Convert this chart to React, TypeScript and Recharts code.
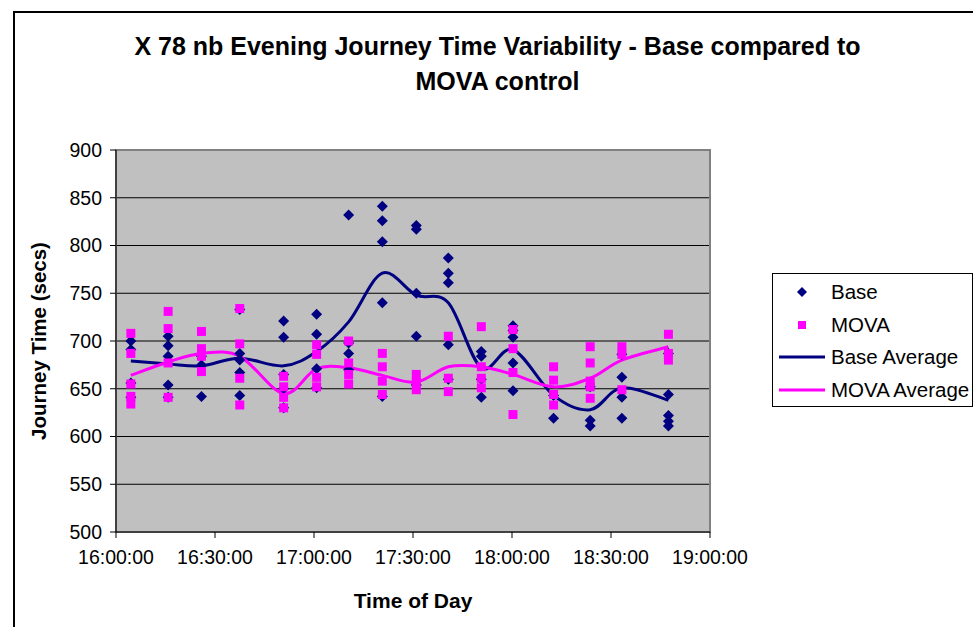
import {
  ComposedChart,
  Scatter,
  Line,
  XAxis,
  YAxis,
  CartesianGrid,
  ReferenceArea,
  Label,
} from 'recharts'

// run start times, minutes after 16:00
const RUN_MINUTES = [4.5, 15.8, 25.9, 37.5, 50.8, 60.8, 70.5, 80.7, 91, 100.7, 110.7, 120.3, 132.6, 143.7, 153.3, 167.4]

// individual journey times (secs) per run slot
const BASE_RUNS = [
  [700, 691, 656, 641],
  [705, 695, 684, 654, 641],
  [684, 675, 642],
  [733, 687, 680, 667, 643],
  [721, 704, 665, 650, 630],
  [728, 707, 671, 651],
  [832, 698, 687, 670],
  [841, 826, 804, 740, 642],
  [821, 817, 750, 705, 654],
  [787, 771, 761, 696, 660],
  [689, 684, 660, 641],
  [716, 711, 704, 677, 648],
  [643, 619],
  [652, 617, 611],
  [686, 662, 641, 619],
  [687, 644, 622, 616, 611],
]

const MOVA_RUNS = [
  [708, 687, 655, 642, 634],
  [731, 713, 677, 641],
  [710, 692, 684, 668],
  [734, 697, 661, 633],
  [663, 652, 641, 630],
  [696, 686, 662, 652],
  [700, 677, 665, 655],
  [687, 673, 658, 644],
  [665, 657, 649],
  [705, 661, 647],
  [715, 673, 661, 651],
  [712, 692, 667, 623],
  [673, 659, 644, 633],
  [694, 677, 658, 652, 640],
  [694, 686, 649],
  [707, 687, 680],
]

const BASE_AVERAGE = [679, 676, 674, 682, 674, 689, 720, 771, 748, 740, 672, 691, 643, 628, 651, 638]
const MOVA_AVERAGE = [664, 678, 687, 684, 645, 671, 672, 664, 657, 673, 673, 665, 652, 661, 680, 694]

const X_TICKS = [0, 30, 60, 90, 120, 150, 180]
const Y_TICKS = [500, 550, 600, 650, 700, 750, 800, 850, 900]

const NAVY = '#000080'
const MAGENTA = '#FF00FF'
const FONT = '"Liberation Sans", Arial, sans-serif'

const toPoints = (runs: number[][]) =>
  runs.flatMap((vals, i) => vals.map((v) => ({ min: RUN_MINUTES[i], value: v })))

const toLine = (avg: number[]) => avg.map((v, i) => ({ min: RUN_MINUTES[i], value: v }))

const basePoints = toPoints(BASE_RUNS)
const movaPoints = toPoints(MOVA_RUNS)
const baseLine = toLine(BASE_AVERAGE)
const movaLine = toLine(MOVA_AVERAGE)

function fmtTime(m: number) {
  const h = 16 + Math.floor(m / 60)
  const mm = String(m % 60).padStart(2, '0')
  return `${h}:${mm}:00`
}

// Excel-style smoothed line (bezier through every point)
const excelSmooth = (context: any) => {
  let pts: [number, number][] = []
  return {
    areaStart() {},
    areaEnd() {},
    lineStart() {
      pts = []
    },
    point(x: number, y: number) {
      pts.push([+x, +y])
    },
    lineEnd() {
      const n = pts.length
      if (!n) return
      context.moveTo(pts[0][0], pts[0][1])
      for (let i = 0; i < n - 1; i++) {
        const p0 = pts[i === 0 ? 0 : i - 1]
        const p1 = pts[i]
        const p2 = pts[i + 1]
        const p3 = pts[i + 2 < n ? i + 2 : n - 1]
        context.bezierCurveTo(
          p1[0] + (p2[0] - p0[0]) / 6,
          p1[1] + (p2[1] - p0[1]) / 6,
          p2[0] - (p3[0] - p1[0]) / 6,
          p2[1] - (p3[1] - p1[1]) / 6,
          p2[0],
          p2[1],
        )
      }
    },
  }
}

const Diamond = (props: any) => {
  const { cx, cy } = props
  const r = 5.5
  return (
    <polygon
      points={`${cx},${cy - r} ${cx + r},${cy} ${cx},${cy + r} ${cx - r},${cy}`}
      fill={NAVY}
    />
  )
}

const Square = (props: any) => {
  const { cx, cy } = props
  const r = 4.5
  return <rect x={cx - r} y={cy - r} width={r * 2} height={r * 2} fill={MAGENTA} />
}

const legendItems = [
  { name: 'Base', kind: 'diamond' },
  { name: 'MOVA', kind: 'square' },
  { name: 'Base Average', kind: 'navyLine' },
  { name: 'MOVA Average', kind: 'magentaLine' },
]

function LegendBox() {
  return (
    <div
      style={{
        position: 'absolute',
        left: 772,
        top: 273,
        width: 201,
        height: 134,
        border: '1px solid #000',
        boxSizing: 'border-box',
        background: '#fff',
        fontFamily: FONT,
        fontSize: 20.5,
      }}
    >
      {legendItems.map((it, i) => (
        <div
          key={it.name}
          style={{
            position: 'absolute',
            left: 0,
            top: 3 + i * 32.5,
            height: 30,
            display: 'flex',
            alignItems: 'center',
            whiteSpace: 'nowrap',
          }}
        >
          <svg width={56} height={30} style={{ display: 'block' }}>
            {it.kind === 'diamond' && <polygon points="29,10 34,15 29,20 24,15" fill={NAVY} />}
            {it.kind === 'square' && <rect x={25} y={11} width={8} height={8} fill={MAGENTA} />}
            {it.kind === 'navyLine' && <line x1={6} y1={15} x2={52} y2={15} stroke={NAVY} strokeWidth={3} />}
            {it.kind === 'magentaLine' && <line x1={6} y1={15} x2={52} y2={15} stroke={MAGENTA} strokeWidth={3} />}
          </svg>
          <span style={{ marginLeft: 2 }}>{it.name}</span>
        </div>
      ))}
    </div>
  )
}

export default function App() {
  const tickStyle = { fill: '#000', fontSize: 19.5, fontFamily: FONT }
  return (
    <div style={{ position: 'absolute', left: 0, top: 0, width: 973, height: 627, overflow: 'hidden', background: '#fff' }}>
      <div
        style={{
          position: 'absolute',
          left: 13,
          top: 11,
          width: 980,
          height: 650,
          border: '2px solid #000',
        }}
      />
      <div
        style={{
          position: 'absolute',
          left: 15,
          width: 965,
          top: 29,
          textAlign: 'center',
          fontFamily: FONT,
          fontWeight: 'bold',
          fontSize: 25,
          lineHeight: '35px',
        }}
      >
        X 78 nb Evening Journey Time Variability - Base compared to
        <br />
        MOVA control
      </div>
      <div style={{ position: 'absolute', left: 0, top: 0 }}>
        <ComposedChart width={973} height={627} margin={{ top: 150, right: 263, bottom: 0, left: 0 }}>
          <CartesianGrid vertical={false} stroke="#000" fill="#C0C0C0" fillOpacity={1} />
          <ReferenceArea x1={0} x2={180} y1={500} y2={900} fill="none" stroke="#808080" strokeWidth={2} />
          <XAxis
            type="number"
            dataKey="min"
            domain={[0, 180]}
            ticks={X_TICKS}
            tickFormatter={fmtTime}
            allowDataOverflow
            height={95}
            tick={tickStyle}
            tickSize={6}
            tickMargin={12}
            axisLine={{ stroke: '#000' }}
            tickLine={{ stroke: '#000' }}
          >
            <Label
              content={({ viewBox }: any) => (
                <text
                  x={viewBox.x + viewBox.width / 2}
                  y={608}
                  textAnchor="middle"
                  fontFamily={FONT}
                  fontWeight="bold"
                  fontSize={21}
                >
                  Time of Day
                </text>
              )}
            />
          </XAxis>
          <YAxis
            type="number"
            dataKey="value"
            domain={[500, 900]}
            ticks={Y_TICKS}
            allowDataOverflow
            width={116}
            tick={tickStyle}
            tickSize={6}
            tickMargin={8}
            axisLine={{ stroke: '#000' }}
            tickLine={{ stroke: '#000' }}
          >
            <Label
              content={({ viewBox }: any) => {
                const cy = viewBox.y + viewBox.height / 2
                return (
                  <text
                    x={46}
                    y={cy}
                    transform={`rotate(-90, 46, ${cy})`}
                    textAnchor="middle"
                    fontFamily={FONT}
                    fontWeight="bold"
                    fontSize={20.5}
                  >
                    Journey Time (secs)
                  </text>
                )
              }}
            />
          </YAxis>
          <Scatter name="Base" data={basePoints} dataKey="value" shape={Diamond} isAnimationActive={false} />
          <Scatter name="MOVA" data={movaPoints} dataKey="value" shape={Square} isAnimationActive={false} />
          <Line
            name="Base Average"
            data={baseLine}
            dataKey="value"
            type={excelSmooth as any}
            stroke={NAVY}
            strokeWidth={3}
            dot={false}
            activeDot={false}
            isAnimationActive={false}
          />
          <Line
            name="MOVA Average"
            data={movaLine}
            dataKey="value"
            type={excelSmooth as any}
            stroke={MAGENTA}
            strokeWidth={3}
            dot={false}
            activeDot={false}
            isAnimationActive={false}
          />
        </ComposedChart>
      </div>
      <LegendBox />
    </div>
  )
}
